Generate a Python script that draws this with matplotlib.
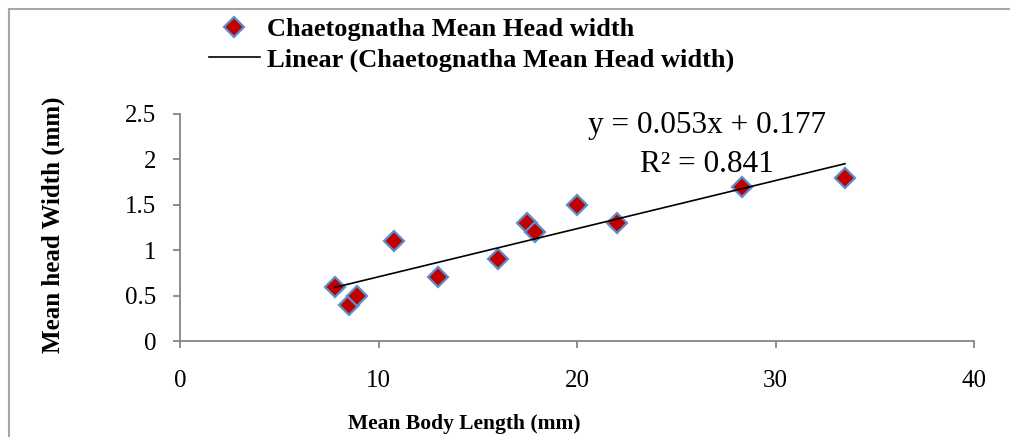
import numpy as np
import matplotlib.pyplot as plt
from matplotlib.patches import Rectangle

# Chaetognatha: mean body length vs mean head width (mm)
body_length = [7.8, 8.5, 8.9, 10.8, 13.0, 16.0, 17.5, 17.9, 20.0, 22.0, 28.3, 33.5]
head_width = [0.6, 0.4, 0.5, 1.1, 0.7, 0.9, 1.3, 1.2, 1.5, 1.3, 1.7, 1.8]

# trendline coefficients as printed on the chart
slope = 0.053
intercept = 0.177
r_squared = 0.841

x_ticks = [0, 10, 20, 30, 40]
y_ticks = [0, 0.5, 1, 1.5, 2, 2.5]
y_tick_labels = ['0', '0.5', '1', '1.5', '2', '2.5']

plt.rcParams['font.family'] = ['Liberation Serif', 'DejaVu Serif']

W, H = 1010, 437
fig = plt.figure(figsize=(W / 100, H / 100), dpi=100)
ax = fig.add_axes([180 / W, 1 - 341 / H, 794 / W, 227 / H])

axis_grey = '#868686'

# trend line over the fitted range
x_fit = np.array([min(body_length), max(body_length)])
y_fit = slope * x_fit + intercept

pts, = ax.plot(body_length, head_width, linestyle='none', marker='D',
               markersize=10, markerfacecolor='#C00000',
               markeredgecolor='#5B8FCB', markeredgewidth=1.6, zorder=3,
               label='Chaetognatha Mean Head width')
trend, = ax.plot(x_fit, y_fit, color='black', lw=1.2, zorder=4,
                 label='Linear (Chaetognatha Mean Head width)')

ax.set_xlim(0, 40)
ax.set_ylim(0, 2.5)
ax.set_xticks(x_ticks)
ax.set_yticks(y_ticks)
ax.set_yticklabels(y_tick_labels)

for side in ['top', 'right']:
    ax.spines[side].set_visible(False)
for side in ['left', 'bottom']:
    ax.spines[side].set_color(axis_grey)
    ax.spines[side].set_linewidth(1.3)

ax.tick_params(axis='x', direction='out', length=5, width=1.3, color=axis_grey,
               labelsize=18, pad=16)
ax.tick_params(axis='y', direction='out', length=5, width=1.3, color=axis_grey,
               labelsize=18, pad=12)

ax.set_xlabel('Mean Body Length (mm)', fontsize=15.5, fontweight='bold', va='center')
ax.xaxis.set_label_coords(0.358, -0.366)
ax.set_ylabel('Mean head Width (mm)', fontsize=18, fontweight='bold', va='center')
ax.yaxis.set_label_coords(-0.16, 0.51)

# equation and R² annotation
fig.text(707 / W, 1 - 126 / H, f'y = {slope:.3f}x + {intercept:.3f}',
         fontsize=22.5, ha='center', va='center')
fig.text(707 / W, 1 - 165 / H, f'R² = {r_squared:.3f}',
         fontsize=22.5, ha='center', va='center')

# legend at the top
fig.legend(handles=[pts, trend], loc='upper left',
           bbox_to_anchor=(209 / W, 1 - 18 / H), frameon=False,
           prop={'size': 19, 'weight': 'bold'}, borderpad=0, borderaxespad=0,
           handlelength=1.93, handletextpad=0.27, labelspacing=0.24)

# outer chart border (runs off the right and bottom edges)
fig.patches.append(Rectangle((9 / W, -0.1), 1.2, 1 - 9 / H + 0.1,
                             transform=fig.transFigure, fill=False,
                             edgecolor='#A6A6A6', lw=1.5))

fig.savefig('out.png', dpi=100)
